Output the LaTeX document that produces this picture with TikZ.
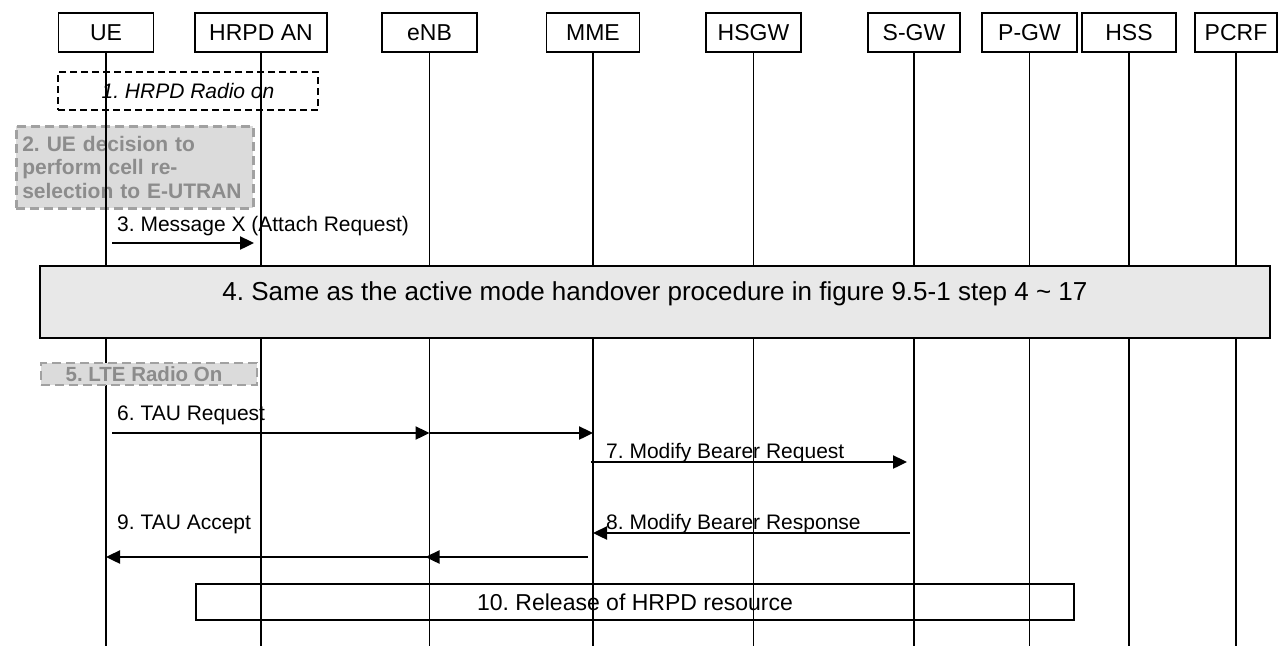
\documentclass[tikz,border=0pt]{standalone}
\usepackage{fontspec}
\setmainfont{Liberation Sans}
\frenchspacing
\usetikzlibrary{positioning,arrows.meta,calc}

\begin{document}
\begin{tikzpicture}[x=1pt, y=-1pt,
    entity/.style={rectangle, draw, line width=1.8pt, minimum height=39pt, inner sep=0pt, font=\fontsize{23}{27}\selectfont},
    life/.style={line width=1.4pt},
    msg/.style={-{Triangle[length=14pt,width=13pt]}, line width=2.4pt},
    msglabel/.style={anchor=base west, inner sep=0pt, font=\fontsize{21}{24}\selectfont},
    local/.style={rectangle, draw=black!37, fill=black!14, dash pattern=on 9pt off 5pt, line width=2.6pt, text=black!45},
    phase/.style={rectangle, draw, line width=1.8pt, inner sep=0pt}]

\useasboundingbox (0,0) rectangle (1278,646);
\coordinate (end) at (0,646);

% entities
\node[entity, minimum width=95pt] (ue) at (106,32.5) {UE};
\node[entity, minimum width=132pt] (hrpd) at (261,32.5) {HRPD AN};
\node[entity, minimum width=95pt] (enb) at (429.5,32.5) {eNB};
\node[entity, minimum width=93pt] (mme) at (593,32.5) {MME};
\node[entity, minimum width=95pt] (hsgw) at (753.5,32.5) {HSGW};
\node[entity, minimum width=92pt] (sgw) at (914,32.5) {S-GW};
\node[entity, minimum width=95pt] (pgw) at (1029.5,32.5) {P-GW};
\node[entity, minimum width=94pt] (hss) at (1129,32.5) {HSS};
\node[entity, minimum width=82pt] (pcrf) at (1236,32.5) {PCRF};

% steps 1 and 2
\node[local, anchor=north west, minimum width=237pt, minimum height=82pt, text width=225pt, inner xsep=6pt, align=left,
      font=\bfseries\fontsize{21}{23.5}\selectfont] (decide) at (15,125) {2. UE decision to\\perform cell re-\\selection to E-UTRAN};
\node[rectangle, draw, line width=2pt, dash pattern=on 7pt off 4pt, minimum width=260pt, minimum height=38pt,
      font=\itshape\fontsize{21}{25}\selectfont] (radio1) at (188,91) {1. HRPD Radio on};

% lifelines
\draw[life] (ue.south) -- (ue.south |- end);
\draw[life] (hrpd.south) -- (hrpd.south |- end);
\draw[life] (enb.south) -- (enb.south |- end);
\draw[life] (mme.south) -- (mme.south |- end);
\draw[life] (hsgw.south) -- (hsgw.south |- end);
\draw[life] (sgw.south) -- (sgw.south |- end);
\draw[life] (pgw.south) -- (pgw.south |- end);
\draw[life] (hss.south) -- (hss.south |- end);
\draw[life] (pcrf.south) -- (pcrf.south |- end);

% steps 4 and 5
\node[phase, fill=black!9, minimum width=1230pt, minimum height=72pt, text depth=21pt,
      font=\fontsize{26}{31}\selectfont] (handover) at (655,302) {4. Same as the active mode handover procedure in figure 9.5-1 step 4 \textasciitilde{} 17};
\node[local, minimum width=216pt, minimum height=22pt, inner sep=1pt, line width=2pt,
      font=\bfseries\fontsize{20.5}{22}\selectfont] (radio5) at (149,374) {\hspace*{-10pt}5. LTE Radio On};

% messages
\coordinate (r3) at (0,243);
\coordinate (r6) at (0,433);
\coordinate (r7) at (0,462);
\coordinate (r8) at (0,533);
\coordinate (r9) at (0,557);

\draw[msg] ($(ue |- r3)+(6,0)$) -- ($(hrpd |- r3)+(-7,0)$);
\node[msglabel] (m3) at (117,231) {3. Message X (Attach Request)};

\draw[msg] ($(ue |- r6)+(6,0)$) -- (enb |- r6);
\draw[msg] (enb |- r6) -- (mme |- r6);
\node[msglabel] (m6) at (117,420) {6. TAU Request};

\draw[msg] ($(mme |- r7)+(-2,0)$) -- ($(sgw |- r7)+(-7,0)$);
\node[msglabel] (m7) at (606,458) {7. Modify Bearer Request};

\draw[msg] ($(sgw |- r8)+(-4,0)$) -- (mme |- r8);
\node[msglabel] (m8) at (606,529) {8. Modify Bearer Response};

\draw[msg] ($(mme |- r9)+(-5,0)$) -- ($(enb |- r9)+(-4,0)$);
\draw[msg] (enb |- r9) -- (ue |- r9);
\node[msglabel] (m9) at (117,529) {9. TAU Accept};

% step 10
\node[phase, minimum width=878pt, minimum height=36pt, font=\fontsize{23}{27}\selectfont] (release) at (635,602) {10. Release of HRPD resource};

\end{tikzpicture}
\end{document}
